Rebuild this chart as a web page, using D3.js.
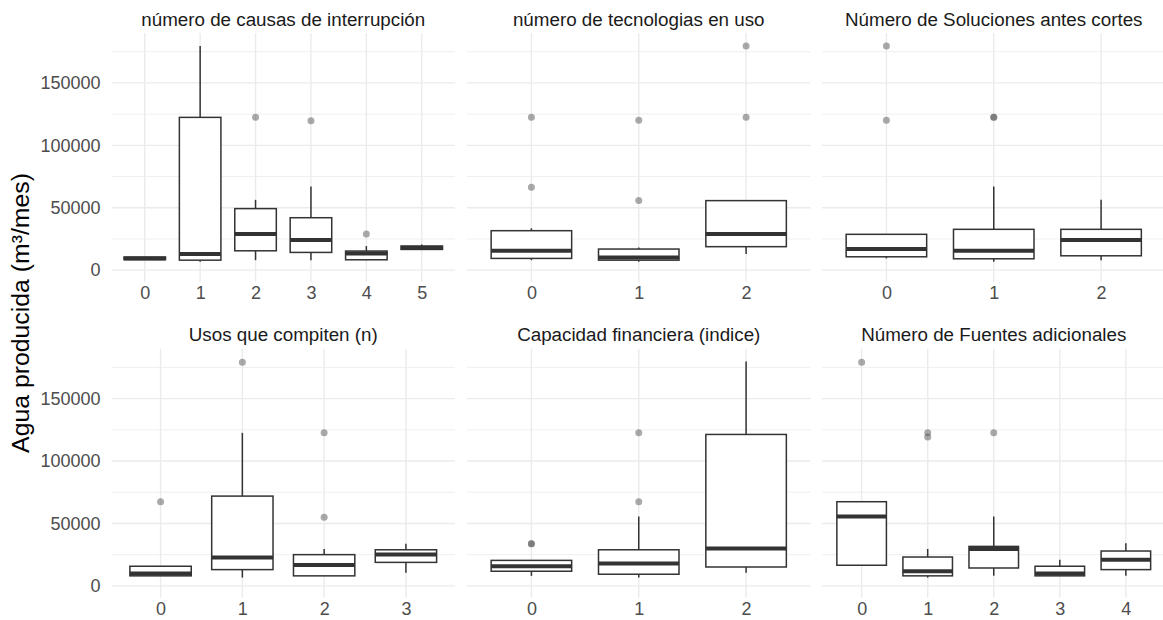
<!DOCTYPE html>
<html>
<head>
<meta charset="utf-8">
<script src="https://cdn.jsdelivr.net/npm/d3@7/dist/d3.min.js"></script>
<style>
  html, body { margin: 0; padding: 0; background: #ffffff; }
  svg { display: block; font-family: "Liberation Sans", Arial, sans-serif; }
</style>
</head>
<body>
<svg id="chart" width="1163" height="620"></svg>
<script>
// Facet titles, in reading order
const panelTitles = [
  "número de causas de interrupción",
  "número de tecnologias en uso",
  "Número de Soluciones antes cortes",
  "Usos que compiten (n)",
  "Capacidad financiera (indice)",
  "Número de Fuentes adicionales"
];

// Categories on each facet's x axis
const causasCats = ["0", "1", "2", "3", "4", "5"];
const tecnoCats = ["0", "1", "2"];
const solucCats = ["0", "1", "2"];
const usosCats = ["0", "1", "2", "3"];
const capacCats = ["0", "1", "2"];
const fuentesCats = ["0", "1", "2", "3", "4"];

// Box statistics per category: [whisker low, Q1, median, Q3, whisker high]
const causasBoxes = [
  [8500, 8500, 9300, 10500, 10500],
  [6700, 8000, 12900, 122400, 179500],
  [8000, 15500, 28900, 49300, 56300],
  [8000, 14200, 24100, 42000, 67000],
  [8000, 8300, 13400, 15300, 19300],
  [16600, 16600, 17900, 19300, 20600]
];
const tecnoBoxes = [
  [8000, 9400, 15500, 31600, 33500],
  [6700, 8000, 10200, 16900, 18200],
  [12900, 18800, 28900, 55700, 55700]
];
const solucBoxes = [
  [9400, 10700, 16900, 28700, 28700],
  [6700, 9100, 15500, 32700, 67000],
  [8000, 11500, 24100, 32700, 56300]
];
const usosBoxes = [
  [8000, 8000, 9800, 15700, 15700],
  [6600, 13000, 22800, 71900, 122600],
  [8000, 8000, 16700, 25000, 29500],
  [10400, 18800, 25200, 28900, 33700]
];
const capacBoxes = [
  [8000, 11700, 15700, 20400, 20400],
  [6600, 9300, 18000, 28900, 55500],
  [10400, 15100, 30000, 121300, 179700]
];
const fuentesBoxes = [
  [16500, 16500, 55500, 67400, 67400],
  [6600, 8000, 11700, 23100, 29500],
  [8000, 14300, 29500, 31600, 55500],
  [8000, 8000, 9800, 15700, 21000],
  [8000, 13000, 21000, 27900, 34200]
];

// Outlying observations per category
const causasOutliers = [[], [], [122400], [119700], [28900], []];
const tecnoOutliers = [[122400, 66400], [120000, 55700], [179500, 122400]];
const solucOutliers = [[179500, 120000], [122400, 122400], []];
const usosOutliers = [[67400], [179200], [122600, 55000], []];
const capacOutliers = [[33700, 33700], [122600, 67400], []];
const fuentesOutliers = [[179200], [122600, 119200], [122600], [], []];

// Shared y axis
const yTicks = [0, 50000, 100000, 150000];
const yMinor = [25000, 75000, 125000, 175000];
const yTitle = "Agua producida (m³/mes)";

const panels = [
  { title: panelTitles[0], cats: causasCats, boxes: causasBoxes, outliers: causasOutliers },
  { title: panelTitles[1], cats: tecnoCats, boxes: tecnoBoxes, outliers: tecnoOutliers },
  { title: panelTitles[2], cats: solucCats, boxes: solucBoxes, outliers: solucOutliers },
  { title: panelTitles[3], cats: usosCats, boxes: usosBoxes, outliers: usosOutliers },
  { title: panelTitles[4], cats: capacCats, boxes: capacBoxes, outliers: capacOutliers },
  { title: panelTitles[5], cats: fuentesCats, boxes: fuentesBoxes, outliers: fuentesOutliers }
];

const svg = d3.select("#chart");

// Facet grid layout
const colX = [111.5, 467, 822];
const panelW = 343.5;
const rowTop = [33, 348.7];
const panelH = 249;
const yDomain = [-9500, 190000];

const gridMajor = "#ebebeb";
const boxStroke = "#333333";

panels.forEach((p, i) => {
  const col = i % 3, row = Math.floor(i / 3);
  const x0 = colX[col], y0 = rowTop[row];
  const g = svg.append("g").attr("transform", `translate(${x0},${y0})`);

  const x = d3.scalePoint().domain(p.cats).range([0, panelW]).padding(0.6);
  const y = d3.scaleLinear().domain(yDomain).range([panelH, 0]);
  const bw = x.step() * 0.75;

  // minor horizontal grid
  g.selectAll("line.minor").data(yMinor).join("line")
    .attr("x1", 0).attr("x2", panelW)
    .attr("y1", d => y(d)).attr("y2", d => y(d))
    .attr("stroke", gridMajor).attr("stroke-width", 0.8);
  // major horizontal grid
  g.selectAll("line.major").data(yTicks).join("line")
    .attr("x1", 0).attr("x2", panelW)
    .attr("y1", d => y(d)).attr("y2", d => y(d))
    .attr("stroke", gridMajor).attr("stroke-width", 1.4);
  // vertical grid at categories
  g.selectAll("line.vgrid").data(p.cats).join("line")
    .attr("x1", d => x(d)).attr("x2", d => x(d))
    .attr("y1", 0).attr("y2", panelH)
    .attr("stroke", gridMajor).attr("stroke-width", 1.4);

  // strip title
  g.append("text")
    .attr("x", panelW / 2).attr("y", (row === 0 ? 19 : 334) - y0)
    .attr("dy", "0.35em").attr("text-anchor", "middle")
    .attr("font-size", 18.8).attr("fill", "#1a1a1a")
    .text(p.title);

  // x axis tick labels
  const xAxis = d3.axisBottom(x).tickSize(0).tickPadding(0);
  const xa = g.append("g").attr("transform", `translate(0,${panelH})`).call(xAxis);
  xa.select(".domain").remove();
  xa.selectAll("text").attr("font-size", 18).attr("fill", "#4d4d4d")
    .attr("font-family", "Liberation Sans, Arial, sans-serif")
    .attr("y", 11).attr("dy", "0.35em");

  // y axis tick labels on the left column
  if (col === 0) {
    const yAxis = d3.axisLeft(y).tickValues(yTicks).tickFormat(d3.format("d")).tickSize(0).tickPadding(11);
    const ya = g.append("g").call(yAxis);
    ya.select(".domain").remove();
    ya.selectAll("text").attr("font-size", 18).attr("fill", "#4d4d4d")
      .attr("font-family", "Liberation Sans, Arial, sans-serif");
  }

  // boxes
  p.cats.forEach((c, k) => {
    const [lo, q1, med, q3, hi] = p.boxes[k];
    const cx = x(c);
    const bg = g.append("g");
    bg.append("line").attr("x1", cx).attr("x2", cx).attr("y1", y(q3)).attr("y2", y(hi))
      .attr("stroke", boxStroke).attr("stroke-width", 1.5);
    bg.append("line").attr("x1", cx).attr("x2", cx).attr("y1", y(q1)).attr("y2", y(lo))
      .attr("stroke", boxStroke).attr("stroke-width", 1.5);
    bg.append("rect").attr("x", cx - bw / 2).attr("width", bw)
      .attr("y", y(q3)).attr("height", y(q1) - y(q3))
      .attr("fill", "#ffffff").attr("stroke", boxStroke).attr("stroke-width", 1.5);
    bg.append("line").attr("x1", cx - bw / 2).attr("x2", cx + bw / 2)
      .attr("y1", y(med)).attr("y2", y(med))
      .attr("stroke", boxStroke).attr("stroke-width", 4);
    bg.selectAll("circle").data(p.outliers[k]).join("circle")
      .attr("cx", cx).attr("cy", d => y(d)).attr("r", 3.5)
      .attr("fill", "#555555").attr("fill-opacity", 0.5);
  });
});

// y axis title
svg.append("text")
  .attr("transform", "translate(20,313) rotate(-90)")
  .attr("dy", "0.35em").attr("text-anchor", "middle")
  .attr("font-size", 24.8).attr("fill", "#000000")
  .text(yTitle);
</script>
</body>
</html>
